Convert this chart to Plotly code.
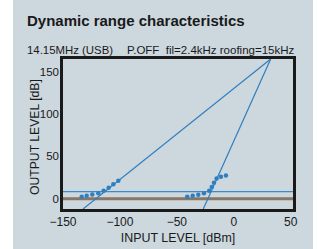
import plotly.graph_objects as go

# Data
s1_x = [-133.6, -129.2, -124.3, -119.0, -114.3, -109.9, -105.8, -101.4]
s1_y = [2.4, 3.5, 5.1, 6.7, 9.4, 13.0, 17.3, 21.2]
s2_x = [-40.9, -36.1, -31.2, -26.2, -21.6, -19.3, -17.4, -15.1, -11.3, -6.9]
s2_y = [2.4, 3.5, 4.7, 6.7, 9.4, 14.1, 18.9, 24.0, 26.0, 27.5]
fund_x = [-132.4, 32.4]
fund_y = [-12, 165]
imd_x = [-26.8, 32.4]
imd_y = [-12, 165]
noise_x = [-150, 52]
noise_y = [8.6, 8.6]
zero_x = [-150, 52]
zero_y = [0, 0]
x_ticks = [-150, -100, -50, 0, 50]
y_ticks = [0, 50, 100, 150]

BG = "#ccd7de"
BLUE = "#2f7fbf"

fig = go.Figure()
fig.add_trace(go.Scatter(x=zero_x, y=zero_y, mode="lines",
                         line=dict(color="#8a7664", width=3), hoverinfo="skip"))
fig.add_trace(go.Scatter(x=noise_x, y=noise_y, mode="lines",
                         line=dict(color="#3f8ac6", width=1.2), hoverinfo="skip"))
fig.add_trace(go.Scatter(x=fund_x, y=fund_y, mode="lines",
                         line=dict(color=BLUE, width=1.2)))
fig.add_trace(go.Scatter(x=imd_x, y=imd_y, mode="lines",
                         line=dict(color=BLUE, width=1.2)))
fig.add_trace(go.Scatter(x=s1_x, y=s1_y, mode="markers",
                         marker=dict(color=BLUE, size=4.5)))
fig.add_trace(go.Scatter(x=s2_x, y=s2_y, mode="markers",
                         marker=dict(color=BLUE, size=4.5)))

fig.add_shape(type="rect", xref="paper", yref="paper",
              x0=-0.2174, x1=1.087, y0=-0.4, y1=1.5,
              fillcolor=BG, line=dict(width=0), layer="below")

font = "Liberation Sans, Arial, sans-serif"
fig.add_annotation(text="<b>Dynamic range characteristics</b>", xref="paper", yref="paper",
                   x=(25 - 63) / 230, y=(209 - 20) / 150, xanchor="left", yanchor="middle",
                   showarrow=False, font=dict(size=15, color="#1a1a1a", family=font))
fig.add_annotation(text="14.15MHz (USB)", xref="paper", yref="paper",
                   x=(25 - 63) / 230, y=(209 - 50) / 150, xanchor="left", yanchor="middle",
                   showarrow=False, font=dict(size=11.4, color="#1a1a1a", family=font))
fig.add_annotation(text="P.OFF  fil=2.4kHz roofing=15kHz", xref="paper", yref="paper",
                   x=(125 - 63) / 230, y=(209 - 50) / 150, xanchor="left", yanchor="middle",
                   showarrow=False, font=dict(size=11.5, color="#1a1a1a", family=font))
fig.add_annotation(text="OUTPUT LEVEL [dB]", xref="paper", yref="paper",
                   x=(35 - 63) / 230, y=(209 - 137) / 150, xanchor="center", yanchor="middle",
                   textangle=-90, showarrow=False,
                   font=dict(size=12.2, color="#1a1a1a", family=font))

fig.update_layout(
    width=318, height=249,
    margin=dict(l=63, r=25, t=59, b=40),
    paper_bgcolor="white", plot_bgcolor=BG,
    showlegend=False,
    font=dict(family=font, size=12, color="#1a1a1a"),
    xaxis=dict(range=[-150, 52], tickvals=x_ticks, showgrid=False, zeroline=False,
               showline=True, mirror=True, linecolor="#1a1a1a", linewidth=2.5,
               ticks="", tickfont=dict(size=12), automargin=False,
               title=dict(text="INPUT LEVEL [dBm]", font=dict(size=12.4), standoff=6)),
    yaxis=dict(range=[-12, 165], tickvals=y_ticks, showgrid=False, zeroline=False,
               showline=True, mirror=True, linecolor="#1a1a1a", linewidth=2.5,
               ticks="", tickfont=dict(size=11.5), automargin=False,
               ticklabelstandoff=-1),
)

fig.write_html("out.html", config={"displayModeBar": False},
               post_script="document.body.style.margin='0';")
